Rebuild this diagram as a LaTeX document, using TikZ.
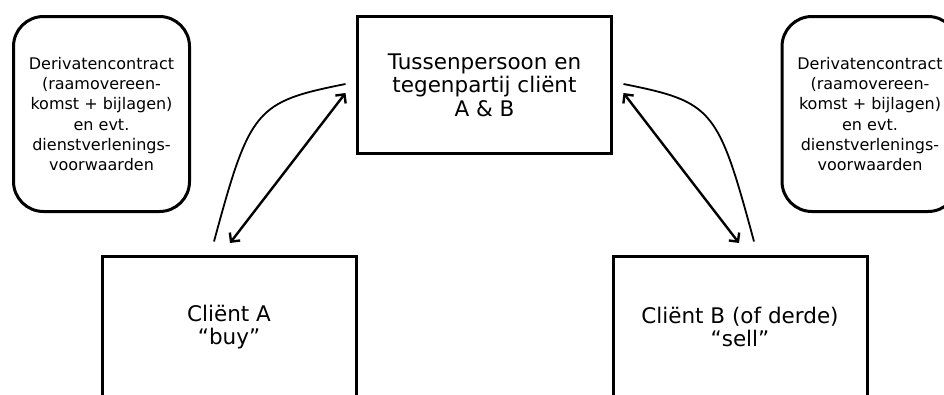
\documentclass[tikz,border=0pt]{standalone}
\usepackage{fontspec}
\setmainfont{DejaVu Sans}
\usetikzlibrary{arrows.meta}
\begin{document}
\begin{tikzpicture}[x=1pt,y=-1pt,
  bigbox/.style={draw=black,line width=3pt,align=center,inner sep=0pt,
    font=\fontsize{21.5}{23.5}\selectfont},
  roundbox/.style={draw=black,line width=3pt,rounded corners=30pt,align=center,inner sep=0pt,
    minimum width=176pt,minimum height=195pt,font=\fontsize{16}{20.3}\selectfont},
  dblarrow/.style={line width=2.4pt,{Straight Barb[length=6.5pt,width=13pt]}-{Straight Barb[length=6.5pt,width=13pt]}},
  curveline/.style={line width=1.8pt}
]
\clip (0,0) rectangle (944,394);
\fill[white] (0,0) rectangle (944,394);

\node[roundbox] (dL) at (101.5,114) {Derivatencontract\\(raamovereen-\\komst + bijlagen)\\en evt.\\dienstverlenings-\\voorwaarden};
\node[roundbox] (dR) at (870,114) {Derivatencontract\\(raamovereen-\\komst + bijlagen)\\en evt.\\dienstverlenings-\\voorwaarden};

\node[bigbox,minimum width=254pt,minimum height=137pt] (cT) at (484.5,85) {Tussenpersoon en\\tegenpartij cliënt\\A \& B};
\node[bigbox,minimum width=254pt,minimum height=141pt] (cA) at (229,327) {Cliënt A\\“buy”};
\node[bigbox,minimum width=254pt,minimum height=141pt] (cB) at (740,327) {Cliënt B (of derde)\\“sell”};

\coordinate (aLb) at ([xshift=1pt,yshift=12pt]cA.north);
\coordinate (aLt) at ([xshift=-10.5pt,yshift=-8pt]cT.west);
\coordinate (aRt) at ([xshift=10.5pt,yshift=-8pt]cT.east);
\coordinate (aRb) at ([xshift=-1pt,yshift=12pt]cB.north);

\coordinate (cLb) at ([xshift=-15pt,yshift=13.5pt]cA.north);
\coordinate (cLt) at ([xshift=-10.5pt,yshift=1pt]cT.west);
\coordinate (cRt) at ([xshift=10.5pt,yshift=1pt]cT.east);
\coordinate (cRb) at ([xshift=14pt,yshift=13.5pt]cB.north);

\draw[dblarrow] (aLb) -- (aLt);
\draw[dblarrow] (aRt) -- (aRb);
\draw[curveline] (cLb) .. controls +(36,-133) and +(-90,18) .. (cLt);
\draw[curveline] (cRt) .. controls +(90,18) and +(-36,-133) .. (cRb);
\end{tikzpicture}
\end{document}
